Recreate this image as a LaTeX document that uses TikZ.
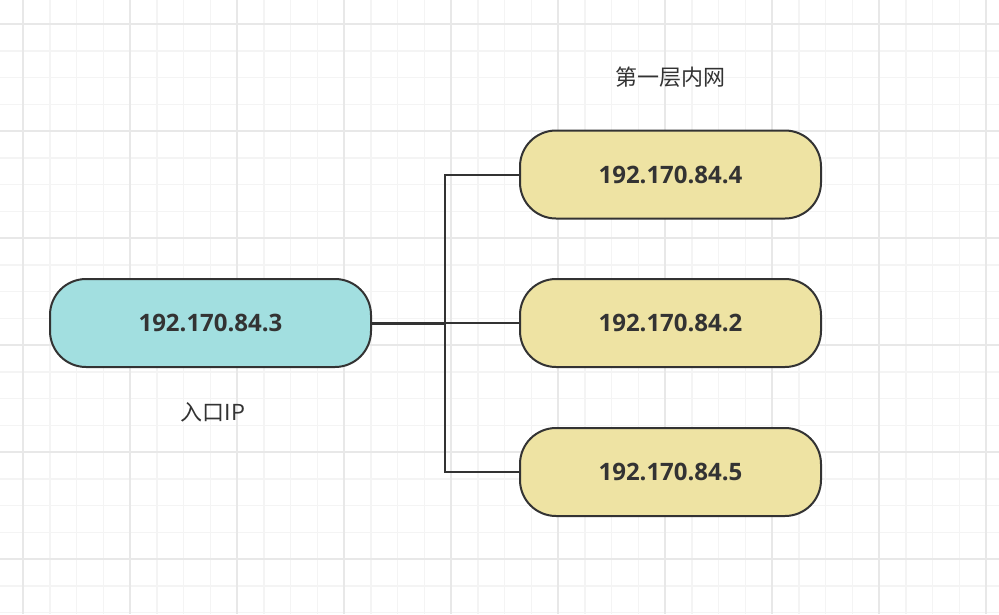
\documentclass[tikz,border=0pt]{standalone}
\usepackage{fontspec}
\setmainfont{Open Sans}
\newfontfamily\cjk{Noto Sans CJK SC}
\definecolor{entryfill}{HTML}{A2DFE0}
\definecolor{lanfill}{HTML}{EEE3A3}
\definecolor{inkgray}{HTML}{333333}
\definecolor{minorgrid}{HTML}{F4F4F4}
\definecolor{majorgrid}{HTML}{E8E8E8}

\begin{document}
\begin{tikzpicture}[x=1pt, y=-1pt,
        ipbox/.style={draw=inkgray, line width=2pt, rounded corners=36pt,
            minimum width=301pt, minimum height=88pt, text=inkgray,
            font=\fontsize{24}{28}\selectfont\bfseries},
        caption/.style={text=inkgray, font=\cjk\fontsize{22}{26}\selectfont},
        conn/.style={draw=inkgray, line width=2pt}]
        \useasboundingbox (0, 0) rectangle (999, 614);
        % grid
        \foreach \i in {-4,...,38} {
            \draw[minorgrid, line width=1.5pt] ({23+26.75*\i}, 0) -- ({23+26.75*\i}, 614);
        }
        \foreach \j in {-4,...,23} {
            \draw[minorgrid, line width=1.5pt] (0, {24+26.75*\j}) -- (999, {24+26.75*\j});
        }
        \foreach \i in {-1,...,9} {
            \draw[majorgrid, line width=1.5pt] ({23+107*\i}, 0) -- ({23+107*\i}, 614);
        }
        \foreach \j in {-1,...,5} {
            \draw[majorgrid, line width=1.5pt] (0, {24+107*\j}) -- (999, {24+107*\j});
        }
        % boxes
        \node[ipbox, fill=entryfill, minimum width=321pt] (entry) at (210.5, 323) {192.170.84.3};
        \node[ipbox, fill=lanfill] (lanfour) at (670.5, 174.5) {192.170.84.4};
        \node[ipbox, fill=lanfill] (lantwo) at (670.5, 323) {192.170.84.2};
        \node[ipbox, fill=lanfill] (lanfive) at (670.5, 472) {192.170.84.5};
        \node[caption] (lancap) at (670, 77) {第一层内网};
        \node[caption] (entrycap) at (213, 412) {入口IP};
        % links
        \coordinate (fork) at (445, 323);
        \draw[conn, line width=3pt] (entry.east) -- (fork);
        \draw[conn] (fork) |- (lanfour.west);
        \draw[conn] (fork) -- (lantwo.west);
        \draw[conn] (fork) |- (lanfive.west);
    \end{tikzpicture}
\end{document}
